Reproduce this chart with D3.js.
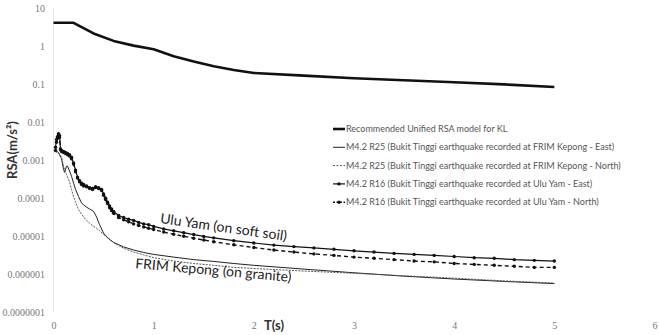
<!DOCTYPE html>
<html>
<head>
<meta charset="utf-8">
<script src="https://cdn.jsdelivr.net/npm/d3@7"></script>
<style>
  body { margin: 0; background: #fff; }
  svg { display: block; }
</style>
</head>
<body>
<svg id="chart" width="659" height="335"></svg>
<script>
// --- Data ---
const yTickValues = [1e-7, 1e-6, 1e-5, 1e-4, 1e-3, 1e-2, 1e-1, 1, 10];
const yTickLabels = ["0.0000001", "0.000001", "0.00001", "0.0001", "0.001", "0.01", "0.1", "1", "10"];
const xTickValues = [0, 1, 2, 3, 4, 5, 6];

// Recommended unified RSA model for KL
const recT = [0, 0.2, 0.4, 0.6, 0.8, 1.0, 1.2, 1.4, 1.6, 1.8, 2.0, 2.5, 3.0, 3.5, 4.0, 4.5, 5.0];
const recRSA = [4.2, 4.2, 2.2, 1.4, 1.05, 0.84, 0.55, 0.4, 0.3, 0.24, 0.2, 0.17, 0.145, 0.128, 0.114, 0.1, 0.085];

// FRIM Kepong (R25)
const frimT = [0.02, 0.04, 0.06, 0.08, 0.10, 0.11, 0.13, 0.14, 0.16, 0.18, 0.20, 0.22, 0.25, 0.28, 0.30,
  0.33, 0.36, 0.40, 0.43, 0.46, 0.50, 0.55, 0.60, 0.70, 0.80, 0.90, 1.0, 1.2, 1.4, 1.6, 1.8, 2.0,
  2.5, 3.0, 3.5, 4.0, 4.5, 5.0];
const frimEast = [0.0019, 0.0017, 0.0014, 0.0011, 0.00058, 0.00048, 0.0007, 0.0007, 0.00052, 0.00038,
  0.00025, 0.00017, 0.00011, 0.000075, 0.000066, 0.000058, 0.000052, 0.000045, 0.000032, 0.00002,
  0.000012, 0.0000085, 0.0000068, 0.0000052, 0.0000043, 0.0000037, 0.0000033, 0.0000028, 0.0000024,
  0.00000215, 0.0000019, 0.0000017, 0.00000135, 0.00000108, 0.00000088, 0.00000074, 0.00000064, 0.00000056];
const frimNorth = [0.0017, 0.0016, 0.0015, 0.0012, 0.0007, 0.00055, 0.00042, 0.00036, 0.00027, 0.00017,
  0.00011, 0.00008, 0.00005, 0.000038, 0.000032, 0.000026, 0.000022, 0.000018, 0.000016, 0.000014,
  0.000011, 0.0000088, 0.0000068, 0.0000048, 0.0000038, 0.0000032, 0.0000027, 0.0000022, 0.0000019,
  0.0000017, 0.0000015, 0.0000014, 0.0000012, 0.00000105, 0.0000009, 0.00000078, 0.00000066, 0.00000058];

// Ulu Yam (R16)
const uluT = [0.02, 0.03, 0.04, 0.05, 0.06, 0.07, 0.08, 0.10, 0.12, 0.14, 0.16, 0.18, 0.20, 0.22, 0.24,
  0.26, 0.28, 0.30, 0.33, 0.36, 0.39, 0.42, 0.45, 0.48, 0.50, 0.52, 0.54, 0.56, 0.58, 0.60, 0.65, 0.70,
  0.75, 0.80, 0.85, 0.90, 0.95, 1.0, 1.1, 1.2, 1.3, 1.4, 1.5, 1.6, 1.8, 2.0, 2.2, 2.4, 2.6, 2.8, 3.0,
  3.2, 3.4, 3.6, 3.8, 4.0, 4.2, 4.4, 4.6, 4.8, 5.0];
const uluEast = [0.0022, 0.0035, 0.0042, 0.005, 0.0045, 0.002, 0.0018, 0.0017, 0.0016, 0.0015, 0.0014,
  0.0012, 0.00085, 0.00055, 0.00036, 0.00029, 0.00025, 0.00023, 0.00021, 0.00019, 0.00018, 0.0002,
  0.00019, 0.00017, 0.00013, 0.0001, 0.000078, 0.000062, 0.000052, 0.000045, 0.000035, 0.000031,
  0.000028, 0.000026, 0.000023, 0.000021, 0.00002, 0.000018, 0.0000155, 0.0000138, 0.0000123, 0.000011,
  0.0000098, 0.000009, 0.0000076, 0.0000066, 0.0000058, 0.0000053, 0.0000049, 0.0000045, 0.0000041,
  0.0000038, 0.0000035, 0.0000033, 0.0000031, 0.0000029, 0.0000027, 0.0000026, 0.0000024, 0.0000023, 0.0000022];
const uluNorth = [0.0018, 0.003, 0.0038, 0.0045, 0.004, 0.0019, 0.0017, 0.0016, 0.0015, 0.0014, 0.0013,
  0.0011, 0.0008, 0.0005, 0.00034, 0.00027, 0.00023, 0.00021, 0.0002, 0.00018, 0.00017, 0.00019,
  0.00018, 0.00016, 0.00012, 0.000092, 0.000072, 0.000056, 0.000047, 0.00004, 0.000031, 0.000027,
  0.000024, 0.000021, 0.000019, 0.0000175, 0.0000162, 0.000015, 0.0000128, 0.0000112, 0.0000099,
  0.0000088, 0.0000079, 0.0000071, 0.0000059, 0.000005, 0.0000043, 0.0000038, 0.0000034, 0.0000031,
  0.0000028, 0.0000026, 0.0000024, 0.0000022, 0.0000021, 0.0000019, 0.0000018, 0.0000017, 0.0000016,
  0.0000015, 0.0000015];

const legendLabels = [
  "Recommended Unified RSA model for KL",
  "M4.2 R25 (Bukit Tinggi earthquake recorded at FRIM Kepong - East)",
  "M4.2 R25 (Bukit Tinggi earthquake recorded at FRIM Kepong - North)",
  "M4.2 R16 (Bukit Tinggi earthquake recorded at Ulu Yam - East)",
  "M4.2 R16 (Bukit Tinggi earthquake recorded at Ulu Yam - North)",
];

// --- Setup ---
const svg = d3.select("#chart");
const x = d3.scaleLinear().domain([0, 6]).range([53.5, 654.5]);
const y = d3.scaleLog().domain([1e-7, 10]).range([312, 8.5]);

const series = [
  { t: recT, v: recRSA, width: 2.6, dash: null, color: "#111", marker: false },
  { t: frimT, v: frimEast, width: 1, dash: null, color: "#222", marker: false },
  { t: frimT, v: frimNorth, width: 1, dash: "2,1.2", color: "#555", marker: false },
  { t: uluT, v: uluEast, width: 1.2, dash: null, color: "#111", marker: true },
  { t: uluT, v: uluNorth, width: 1.4, dash: "4,3", color: "#111", marker: true },
];

// --- Axes ---
svg.append("line")
  .attr("x1", x(0)).attr("x2", x(0))
  .attr("y1", y(10)).attr("y2", y(1e-7))
  .attr("stroke", "#e6e6e6");

const yAxis = svg.append("g")
  .attr("transform", `translate(${x(0)},0)`)
  .call(d3.axisLeft(y).tickValues(yTickValues).tickSize(0).tickPadding(8.5)
    .tickFormat((d, i) => yTickLabels[i]));
const xAxis = svg.append("g")
  .attr("transform", `translate(0,${y(1e-7)})`)
  .call(d3.axisBottom(x).tickValues(xTickValues).tickSize(0).tickPadding(10)
    .tickFormat(d3.format("d")));
[yAxis, xAxis].forEach((g) => {
  g.select(".domain").remove();
  g.selectAll("text")
    .attr("font-family", "Liberation Serif, serif")
    .attr("font-size", "10px")
    .attr("fill", "#777");
});

svg.append("text")
  .attr("transform", "translate(17,150) rotate(-90)")
  .attr("text-anchor", "middle")
  .attr("font-family", "Lato, sans-serif")
  .attr("font-weight", "bold")
  .attr("font-size", "13px")
  .attr("fill", "#333")
  .text("RSA(m/s²)");

svg.append("text")
  .attr("x", 274).attr("y", 330)
  .attr("text-anchor", "middle")
  .attr("font-family", "Lato, sans-serif")
  .attr("font-weight", "bold")
  .attr("font-size", "13px")
  .attr("fill", "#333")
  .text("T(s)");

// --- Lines ---
const line = d3.line().x((d) => x(d[0])).y((d) => y(d[1]));

series.forEach((s) => {
  const pts = s.t.map((t, i) => [t, s.v[i]]);
  svg.append("path")
    .attr("d", line(pts))
    .attr("fill", "none")
    .attr("stroke", s.color)
    .attr("stroke-width", s.width)
    .attr("stroke-dasharray", s.dash)
    .attr("stroke-linejoin", "round");
  if (s.marker) {
    svg.append("g").selectAll("circle")
      .data(pts)
      .join("circle")
      .attr("cx", (d) => x(d[0]))
      .attr("cy", (d) => y(d[1]))
      .attr("r", 1.7)
      .attr("fill", s.color);
  }
});

// --- Curve labels ---
svg.append("text")
  .attr("transform", "translate(223,232) rotate(8)")
  .attr("text-anchor", "middle")
  .attr("font-family", "Lato, sans-serif")
  .attr("font-size", "14px")
  .attr("fill", "#222")
  .text("Ulu Yam (on soft soil)");

svg.append("text")
  .attr("transform", "translate(213,275) rotate(5)")
  .attr("text-anchor", "middle")
  .attr("font-family", "Lato, sans-serif")
  .attr("font-size", "14px")
  .attr("fill", "#222")
  .text("FRIM Kepong (on granite)");

// --- Legend ---
const legend = svg.append("g").attr("transform", "translate(333,129)");
legendLabels.forEach((label, i) => {
  const s = series[i];
  const row = legend.append("g").attr("transform", `translate(0,${i * 18.3})`);
  row.append("line")
    .attr("x1", 0).attr("x2", 12)
    .attr("stroke", s.color)
    .attr("stroke-width", i === 0 ? 2.6 : s.width)
    .attr("stroke-dasharray", s.dash ? "2,1.5" : null);
  if (s.marker) row.append("circle").attr("cx", 6).attr("r", 1.7).attr("fill", s.color);
  row.append("text")
    .attr("x", 13).attr("dy", "0.35em")
    .attr("font-family", "Lato, sans-serif")
    .attr("font-size", "9px")
    .attr("fill", "#555")
    .text(label);
});
</script>
</body>
</html>
